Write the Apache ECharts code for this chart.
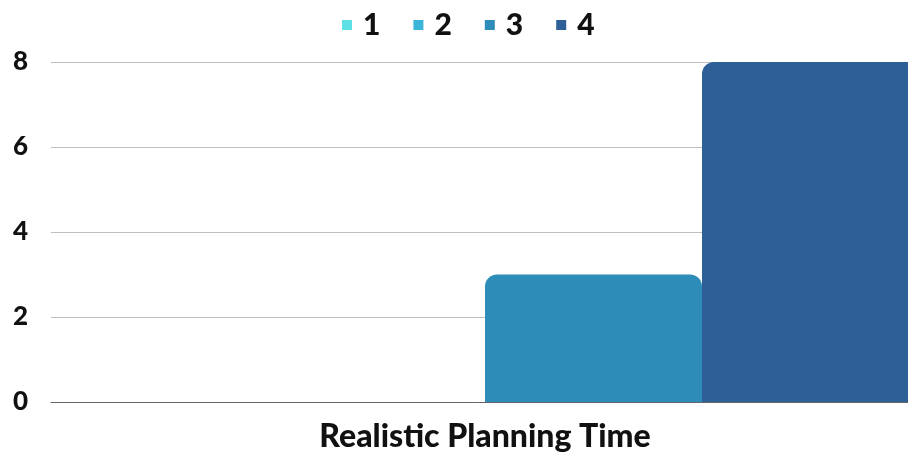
<!DOCTYPE html>
<html><head><meta charset="utf-8">
<script src="https://cdn.jsdelivr.net/npm/echarts@6/dist/echarts.min.js"></script>
<style>html,body{margin:0;padding:0;background:#fff}#c{width:908px;height:457px}</style>
</head><body><div id="c"></div>
<script>
const categories = ['Realistic Planning Time'];
const seriesNames = ['1', '2', '3', '4'];
const s1 = [0];
const s2 = [0];
const s3 = [3];
const s4 = [8];
const yTicks = [0, 2, 4, 6, 8];
const colors = ['#5ddfe6', '#3db5d8', '#2e8cb9', '#2e5f97'];
const values = [s1, s2, s3, s4];
const chart = echarts.init(document.getElementById('c'));
chart.setOption({
  animation: false,
  color: colors,
  textStyle: { fontFamily: 'Lato' },
  legend: {
    top: 5, left: 337, itemWidth: 10, itemHeight: 10, itemGap: 33,
    icon: 'rect',
    textStyle: { fontFamily: 'Lato', fontWeight: 900, fontSize: 30, color: '#111', padding: [0, 0, 0, 6] },
    data: seriesNames
  },
  grid: { left: 51, width: 868, top: 62, bottom: 55, containLabel: false, outerBoundsMode: 'none' },
  xAxis: {
    type: 'category', data: categories,
    axisLine: { lineStyle: { color: '#666', width: 1 } },
    axisTick: { show: false },
    axisLabel: { fontFamily: 'Lato', fontWeight: 900, fontSize: 32, color: '#111', margin: 19 }
  },
  yAxis: {
    type: 'value', min: 0, max: yTicks[yTicks.length - 1], interval: 2,
    axisLine: { show: false }, axisTick: { show: false },
    splitLine: { lineStyle: { color: '#bfbfbf', width: 1 } },
    axisLabel: { fontFamily: 'Lato', fontWeight: 900, fontSize: 26, color: '#111', margin: 23 }
  },
  series: seriesNames.map((n, i) => ({
    name: n, type: 'bar', data: values[i],
    barGap: '0%', barCategoryGap: '0%',
    itemStyle: { borderRadius: [12, 12, 0, 0] }
  }))
});
</script></body></html>
